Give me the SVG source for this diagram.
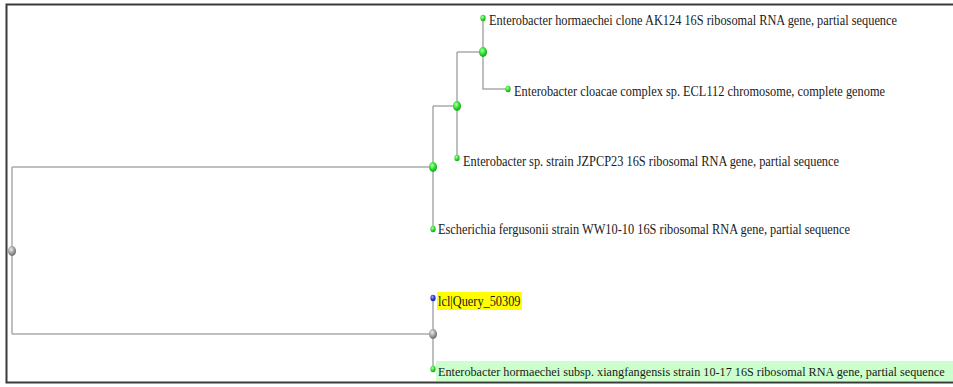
<svg xmlns="http://www.w3.org/2000/svg" width="953" height="387" viewBox="0 0 953 387">
<defs>
<radialGradient id="gGreen" cx="40%" cy="35%" r="65%"><stop offset="0" stop-color="#b8ffb8"/><stop offset="0.5" stop-color="#33e633"/><stop offset="1" stop-color="#16a016"/></radialGradient>
<radialGradient id="gGrey" cx="40%" cy="35%" r="65%"><stop offset="0" stop-color="#eeeeee"/><stop offset="0.5" stop-color="#a8a8a8"/><stop offset="1" stop-color="#6a6a6a"/></radialGradient>
<radialGradient id="gBlue" cx="40%" cy="35%" r="65%"><stop offset="0" stop-color="#aab4ff"/><stop offset="0.5" stop-color="#3040ee"/><stop offset="1" stop-color="#1a1a9a"/></radialGradient>
</defs>
<style>
.br{fill:none;stroke:#aaaaaa;stroke-width:1.5}
.lbl{font-family:"Liberation Serif","Times New Roman",serif;font-size:14px;fill:#1a1a1a}
.leaf{fill:url(#gGreen)}
.inner{fill:url(#gGreen)}
.grey{fill:url(#gGrey)}
.blue{fill:url(#gBlue)}
.frame{stroke:#3a3a3a;stroke-width:2;fill:none}
</style>
<rect width="953" height="387" fill="#ffffff"/>
<g id="frame">
<path class="frame" d="M953,4.5 H6.5 V382.5 H953"/>
</g>
<g id="highlights">
<rect x="437" y="292" width="85" height="18" fill="#ffff00"/>
<rect x="436" y="361" width="517" height="20" fill="#ccffcc"/>
</g>
<g id="connectors">
<path class="br" d="M12,167 V334 M12,167 H433 M12,334 H433"/>
<path class="br" d="M433,106 V229 M433,106 H457"/>
<path class="br" d="M457,52 V158 M457,52 H483"/>
<path class="br" d="M483,18 V89 H508"/>
<path class="br" d="M433,298 V369"/>
</g>
<g id="root"><ellipse class="grey" cx="12" cy="251" rx="4" ry="5"/></g>
<g id="n1"><ellipse class="inner" cx="433" cy="167" rx="4" ry="5"/></g>
<g id="n2"><ellipse class="inner" cx="457" cy="106" rx="4" ry="5"/></g>
<g id="n3"><ellipse class="inner" cx="483" cy="52" rx="4" ry="5"/></g>
<g id="n4"><ellipse class="grey" cx="433" cy="334" rx="4" ry="5"/></g>
<g id="leaf1"><ellipse class="leaf" cx="483" cy="18" rx="2.6" ry="3.3"/><text class="lbl" x="489" y="25" textLength="408" lengthAdjust="spacingAndGlyphs">Enterobacter hormaechei clone AK124 16S ribosomal RNA gene, partial sequence</text></g>
<g id="leaf2"><ellipse class="leaf" cx="508" cy="89" rx="2.6" ry="3.3"/><text class="lbl" x="514" y="96" textLength="371" lengthAdjust="spacingAndGlyphs">Enterobacter cloacae complex sp. ECL112 chromosome, complete genome</text></g>
<g id="leaf3"><ellipse class="leaf" cx="457" cy="158" rx="2.6" ry="3.3"/><text class="lbl" x="463" y="165.5" textLength="376" lengthAdjust="spacingAndGlyphs">Enterobacter sp. strain JZPCP23 16S ribosomal RNA gene, partial sequence</text></g>
<g id="leaf4"><ellipse class="leaf" cx="433" cy="229" rx="2.6" ry="3.3"/><text class="lbl" x="438" y="234" textLength="412" lengthAdjust="spacingAndGlyphs">Escherichia fergusonii strain WW10-10 16S ribosomal RNA gene, partial sequence</text></g>
<g id="query"><ellipse class="blue" cx="433" cy="298" rx="2.6" ry="3.3"/><text class="lbl" x="438" y="306" textLength="82.5" lengthAdjust="spacingAndGlyphs">lcl|Query_50309</text></g>
<g id="leaf6"><ellipse class="leaf" cx="433" cy="369" rx="2.6" ry="3.3"/><text class="lbl" x="438" y="375.5" style="font-size:12.2px">Enterobacter hormaechei subsp. xiangfangensis strain 10-17 16S ribosomal RNA gene, partial sequence</text></g>
</svg>
